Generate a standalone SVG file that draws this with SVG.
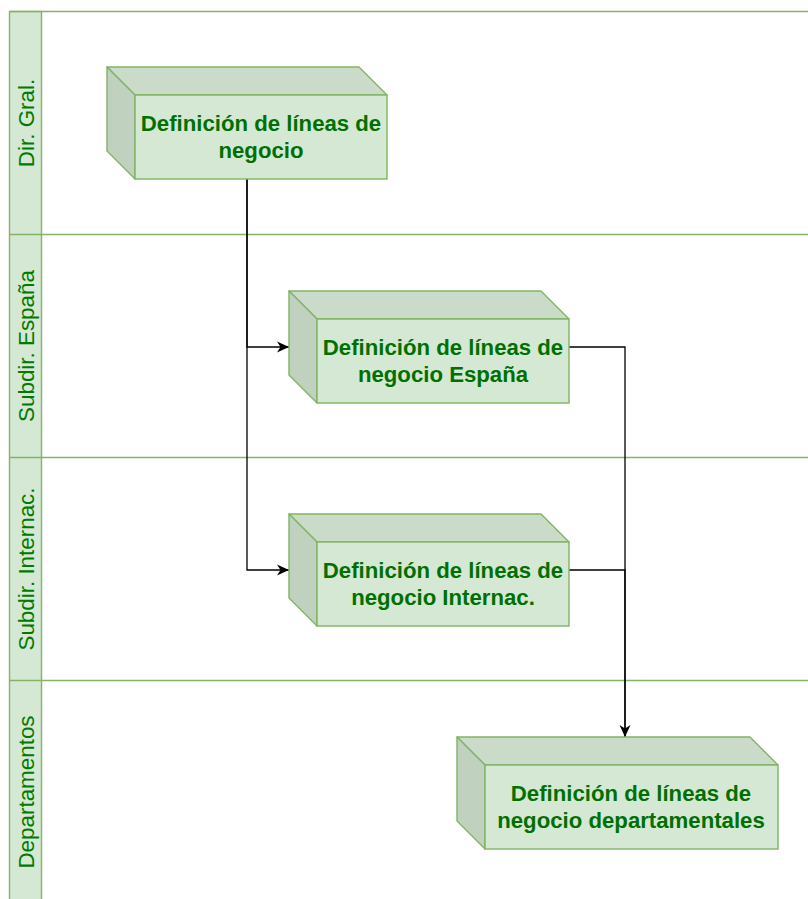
<svg xmlns="http://www.w3.org/2000/svg" width="808" height="899" viewBox="0 0 808 899">
<style>
.lane{fill:none;stroke:#82b366;stroke-width:1.4}
.hdr{fill:#d5e8d4;stroke:#82b366;stroke-width:1.4}
.hdrtxt{font-family:"Liberation Sans",Arial,sans-serif;font-size:22.4px;fill:#007a00;text-anchor:middle}
.front{fill:#d5e8d4;stroke:#82b366;stroke-width:1.4}
.top{fill:#cadcc9;stroke:#82b366;stroke-width:1.4;stroke-linejoin:round}
.side{fill:#c0d1bf;stroke:#82b366;stroke-width:1.4;stroke-linejoin:round}
.txt{font-family:"Liberation Sans",Arial,sans-serif;font-size:22.2px;font-weight:bold;fill:#007000;text-anchor:middle}
.edge{fill:none;stroke:#000;stroke-width:1.3}
</style>
<defs>
<marker id="arr" markerUnits="userSpaceOnUse" markerWidth="13" markerHeight="12" refX="12" refY="6" orient="auto">
<path d="M0,0.5 L12,6 L0,11.5 L3.5,6 Z" fill="#000"/>
</marker>
</defs>
<rect width="808" height="899" fill="#ffffff"/>
<g id="pool">
<rect class="hdr" x="9.5" y="11.5" width="32" height="900"/>
<line class="lane" x1="9.5" y1="11.5" x2="810" y2="11.5"/>
<line class="lane" x1="9.5" y1="234.5" x2="810" y2="234.5"/>
<line class="lane" x1="9.5" y1="457.5" x2="810" y2="457.5"/>
<line class="lane" x1="9.5" y1="680.5" x2="810" y2="680.5"/>
</g>
<g id="lane-dir-gral"><text class="hdrtxt" transform="translate(34,123) rotate(-90)">Dir. Gral.</text></g>
<g id="lane-subdir-espana"><text class="hdrtxt" transform="translate(34,346) rotate(-90)">Subdir. España</text></g>
<g id="lane-subdir-internac"><text class="hdrtxt" transform="translate(34,569) rotate(-90)">Subdir. Internac.</text></g>
<g id="lane-departamentos"><text class="hdrtxt" transform="translate(34,792) rotate(-90)">Departamentos</text></g>

<g id="connectors">
<path class="edge" d="M247,179 V347 H289" marker-end="url(#arr)"/>
<path class="edge" d="M247,179 V570 H289" marker-end="url(#arr)"/>
<path class="edge" d="M569,347 H625 V737" marker-end="url(#arr)"/>
<path class="edge" d="M569,570 H625 V737"/>
</g>

<g id="node-dir">
<path class="top" d="M107,67 H359 L387,95 H135 Z"/>
<path class="side" d="M107,67 L135,95 V179 L107,151 Z"/>
<rect class="front" x="135" y="95" width="252" height="84"/>
<text class="txt" x="261" y="131">Definición de líneas de</text>
<text class="txt" x="261" y="158">negocio</text>
</g>

<g id="node-espana">
<path class="top" d="M289,291 H541 L569,319 H317 Z"/>
<path class="side" d="M289,291 L317,319 V403 L289,375 Z"/>
<rect class="front" x="317" y="319" width="252" height="84"/>
<text class="txt" x="443" y="355">Definición de líneas de</text>
<text class="txt" x="443" y="382">negocio España</text>
</g>

<g id="node-internac">
<path class="top" d="M289,514 H541 L569,542 H317 Z"/>
<path class="side" d="M289,514 L317,542 V626 L289,598 Z"/>
<rect class="front" x="317" y="542" width="252" height="84"/>
<text class="txt" x="443" y="578">Definición de líneas de</text>
<text class="txt" x="443" y="605">negocio Internac.</text>
</g>

<g id="node-departamentos">
<path class="top" d="M457,737 H750 L778,765 H485 Z"/>
<path class="side" d="M457,737 L485,765 V849 L457,821 Z"/>
<rect class="front" x="485" y="765" width="293" height="84"/>
<text class="txt" x="631" y="801">Definición de líneas de</text>
<text class="txt" x="631" y="828">negocio departamentales</text>
</g>
</svg>
